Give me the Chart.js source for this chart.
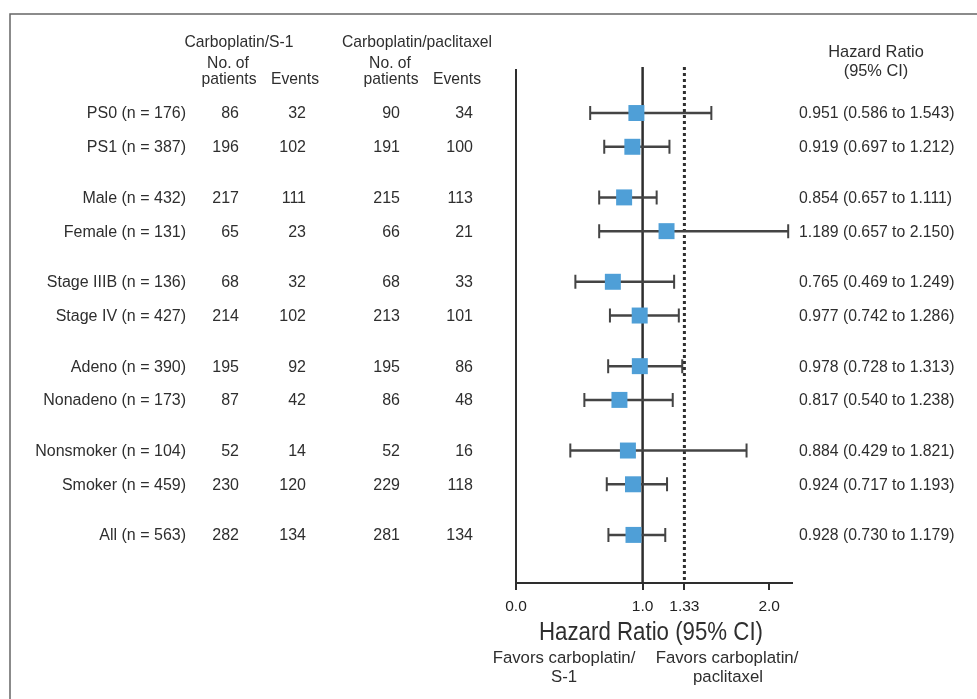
<!DOCTYPE html>
<html>
<head>
<meta charset="utf-8">
<title>Hazard ratio by subgroup</title>
<script src="https://cdn.jsdelivr.net/npm/chart.js@4.4.1/dist/chart.umd.min.js"></script>
<style>
  html, body { margin: 0; padding: 0; background: #fff; }
  canvas { display: block; }
</style>
</head>
<body>
<canvas id="forest" width="977" height="699"></canvas>
<script>
const subgroups = ['PS0 (n = 176)', 'PS1 (n = 387)', 'Male (n = 432)', 'Female (n = 131)',
  'Stage IIIB (n = 136)', 'Stage IV (n = 427)', 'Adeno (n = 390)', 'Nonadeno (n = 173)',
  'Nonsmoker (n = 104)', 'Smoker (n = 459)', 'All (n = 563)'];
// row slots, with a blank half-row between groups
const rowSlots = [0, 2, 5, 7, 10, 12, 15, 17, 20, 22, 25];
const s1Patients = [86, 196, 217, 65, 68, 214, 195, 87, 52, 230, 282];
const s1Events = [32, 102, 111, 23, 32, 102, 92, 42, 14, 120, 134];
const ptPatients = [90, 191, 215, 66, 68, 213, 195, 86, 52, 229, 281];
const ptEvents = [34, 100, 113, 21, 33, 101, 86, 48, 16, 118, 134];
const hazardRatio = [0.951, 0.919, 0.854, 1.189, 0.765, 0.977, 0.978, 0.817, 0.884, 0.924, 0.928];
const ciLow = [0.586, 0.697, 0.657, 0.657, 0.469, 0.742, 0.728, 0.540, 0.429, 0.717, 0.730];
const ciHigh = [1.543, 1.212, 1.111, 2.150, 1.249, 1.286, 1.313, 1.238, 1.821, 1.193, 1.179];
const xTickValues = [0, 1, 1.33, 2];
const xTickLabels = ['0.0', '1.0', '1.33', '2.0'];

const FONT = "'Liberation Sans', Arial, Helvetica, sans-serif";
const INK = '#2e2e2e';

Chart.defaults.font.family = FONT;

function text(ctx, str, x, y, align, size, maxWidth) {
  ctx.font = size + 'px ' + FONT;
  ctx.textAlign = align;
  if (maxWidth) ctx.fillText(str, x, y, maxWidth);
  else ctx.fillText(str, x, y);
}

const forestPlugin = {
  id: 'forest',
  beforeDraw(chart) {
    const ctx = chart.ctx;
    ctx.save();
    ctx.strokeStyle = '#666';
    ctx.lineWidth = 1.5;
    ctx.beginPath();
    ctx.moveTo(10, 699);
    ctx.lineTo(10, 14);
    ctx.lineTo(977, 14);
    ctx.stroke();
    ctx.restore();
  },
  beforeDatasetsDraw(chart) {
    const ctx = chart.ctx;
    const x = chart.scales.x;
    const y = chart.scales.y;
    const top = chart.chartArea.top - 3;
    const bottom = chart.chartArea.bottom;

    ctx.save();
    ctx.strokeStyle = INK;
    ctx.lineWidth = 2.5;
    ctx.beginPath();
    ctx.moveTo(x.getPixelForValue(1), top);
    ctx.lineTo(x.getPixelForValue(1), bottom);
    ctx.stroke();

    ctx.lineWidth = 3;
    ctx.setLineDash([3, 3]);
    ctx.beginPath();
    ctx.moveTo(x.getPixelForValue(1.33), top);
    ctx.lineTo(x.getPixelForValue(1.33), bottom);
    ctx.stroke();
    ctx.setLineDash([]);

    ctx.strokeStyle = '#444';
    for (let i = 0; i < subgroups.length; i++) {
      const yy = y.getPixelForValue(rowSlots[i]);
      const x0 = x.getPixelForValue(ciLow[i]);
      const x1 = x.getPixelForValue(ciHigh[i]);
      ctx.lineWidth = 2.5;
      ctx.beginPath();
      ctx.moveTo(x0, yy);
      ctx.lineTo(x1, yy);
      ctx.stroke();
      ctx.lineWidth = 2;
      ctx.beginPath();
      ctx.moveTo(x0, yy - 7);
      ctx.lineTo(x0, yy + 7);
      ctx.moveTo(x1, yy - 7);
      ctx.lineTo(x1, yy + 7);
      ctx.stroke();
    }
    ctx.restore();
  },
  afterDraw(chart) {
    const ctx = chart.ctx;
    const y = chart.scales.y;
    ctx.save();
    ctx.fillStyle = INK;
    ctx.textBaseline = 'middle';

    text(ctx, 'Carboplatin/S-1', 239, 43, 'center', 15.7);
    text(ctx, 'Carboplatin/paclitaxel', 417, 43, 'center', 15.7);
    text(ctx, 'No. of', 228, 64, 'center', 15.7);
    text(ctx, 'patients', 229, 80, 'center', 15.7);
    text(ctx, 'Events', 295, 80, 'center', 15.7);
    text(ctx, 'No. of', 390, 64, 'center', 15.7);
    text(ctx, 'patients', 391, 80, 'center', 15.7);
    text(ctx, 'Events', 457, 80, 'center', 15.7);
    text(ctx, 'Hazard Ratio', 876, 52, 'center', 16.4);
    text(ctx, '(95% CI)', 876, 71, 'center', 16.4);

    for (let i = 0; i < subgroups.length; i++) {
      const yy = y.getPixelForValue(rowSlots[i]) + 1;
      text(ctx, subgroups[i], 186, yy, 'right', 16);
      text(ctx, String(s1Patients[i]), 239, yy, 'right', 16);
      text(ctx, String(s1Events[i]), 306, yy, 'right', 16);
      text(ctx, String(ptPatients[i]), 400, yy, 'right', 16);
      text(ctx, String(ptEvents[i]), 473, yy, 'right', 16);
      const ci = hazardRatio[i].toFixed(3) + ' (' + ciLow[i].toFixed(3) + ' to ' + ciHigh[i].toFixed(3) + ')';
      text(ctx, ci, 799, yy, 'left', 15.8);
    }

    ctx.font = "25px 'Liberation Sans Narrow', " + FONT;
    ctx.textAlign = 'center';
    ctx.fillText('Hazard Ratio (95% CI)', 651, 633, 224);

    text(ctx, 'Favors carboplatin/', 564, 658, 'center', 16.8);
    text(ctx, 'S-1', 564, 677, 'center', 16.8);
    text(ctx, 'Favors carboplatin/', 727, 658, 'center', 16.8);
    text(ctx, 'paclitaxel', 728, 677, 'center', 16.8);
    ctx.restore();
  }
};

const points = hazardRatio.map((v, i) => ({ x: v, y: rowSlots[i] }));

new Chart(document.getElementById('forest'), {
  type: 'scatter',
  data: {
    datasets: [{
      data: points,
      pointStyle: 'rect',
      pointRadius: 11.3,
      backgroundColor: '#4f9fd7',
      borderWidth: 0,
      showLine: false
    }]
  },
  options: {
    responsive: false,
    animation: false,
    layout: { padding: { left: 516, right: 185, top: 70, bottom: 86 } },
    plugins: {
      legend: { display: false },
      tooltip: { enabled: false }
    },
    scales: {
      x: {
        type: 'linear',
        min: 0,
        max: 2.18,
        afterFit(scale) { scale.height = 30; },
        afterBuildTicks(scale) { scale.ticks = xTickValues.map(v => ({ value: v })); },
        ticks: {
          autoSkip: false,
          maxRotation: 0,
          padding: 7,
          color: '#222',
          font: { size: 15.5 },
          callback: (v) => xTickLabels[xTickValues.indexOf(v)]
        },
        grid: { drawOnChartArea: false, tickLength: 7, color: INK, lineWidth: 2 },
        border: { color: INK, width: 2 }
      },
      y: {
        type: 'linear',
        reverse: true,
        min: -2.55,
        max: 27.85,
        afterFit(scale) { scale.width = 0; },
        ticks: { display: false },
        grid: { display: false },
        border: { color: INK, width: 2 }
      }
    }
  },
  plugins: [forestPlugin]
});
</script>
</body>
</html>
